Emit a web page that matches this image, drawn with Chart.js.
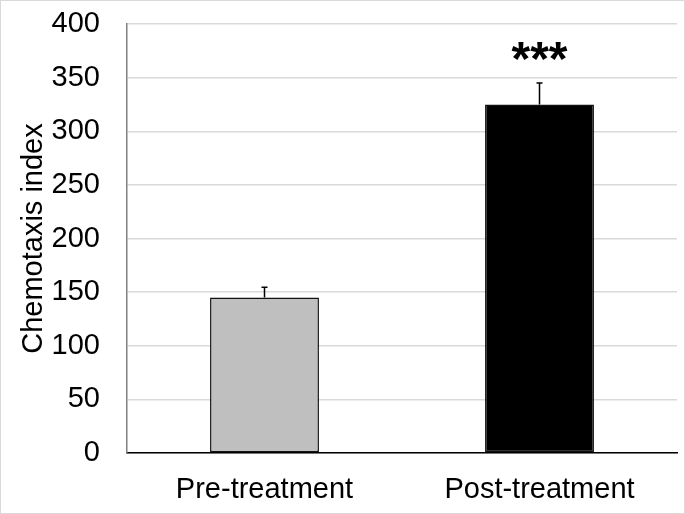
<!DOCTYPE html>
<html>
<head>
<meta charset="utf-8">
<script src="https://cdn.jsdelivr.net/npm/chart.js@4"></script>
<style>
  body { margin: 0; background: #fff; }
  #wrap { width: 683px; height: 512px; border: 1px solid #d9d9d9; }
</style>
</head>
<body>
<div id="wrap"><canvas id="grafico" width="683" height="512"></canvas></div>
<script>
// dados do gráfico
const categorias = ['Pre-treatment', 'Post-treatment'];
const valores = [145, 325];
const erros = [9.5, 20];
const cores = ['#bfbfbf', '#000000'];
const marcas = ['', '***'];
const ticksY = [0, 50, 100, 150, 200, 250, 300, 350, 400];

const fonte = '"Liberation Sans", Arial, sans-serif';

// barras de erro (só para cima) e asteriscos
const pluginErros = {
    id: 'erros',
    afterDatasetsDraw(chart) {
        const ctx = chart.ctx;
        const meta = chart.getDatasetMeta(0);
        const y = chart.scales.y;
        ctx.save();
        meta.data.forEach((barra, i) => {
            const topo = y.getPixelForValue(valores[i]);
            const fim = y.getPixelForValue(valores[i] + erros[i]);
            ctx.strokeStyle = '#000';
            ctx.lineWidth = 1.5;
            ctx.beginPath();
            ctx.moveTo(barra.x, topo);
            ctx.lineTo(barra.x, fim);
            ctx.moveTo(barra.x - 3, fim);
            ctx.lineTo(barra.x + 3, fim);
            ctx.stroke();
            if (marcas[i]) {
                ctx.fillStyle = '#000';
                ctx.font = 'bold 48px ' + fonte;
                ctx.textAlign = 'center';
                ctx.textBaseline = 'middle';
                ctx.fillText(marcas[i], barra.x, fim - 21);
            }
        });
        ctx.restore();
    }
};

new Chart(document.getElementById('grafico'), {
    type: 'bar',
    data: {
        labels: categorias,
        datasets: [{
            data: valores,
            backgroundColor: cores,
            borderColor: '#111',
            borderWidth: 1.5,
            borderSkipped: false,
            barPercentage: 0.8,
            categoryPercentage: 0.495
        }]
    },
    options: {
        responsive: false,
        animation: false,
        layout: { padding: { top: 23, right: 7, left: 12, bottom: 8 } },
        plugins: { legend: { display: false }, tooltip: { enabled: false } },
        scales: {
            x: {
                afterFit(axis) { axis.height = 52; },
                grid: { display: false, drawTicks: false },
                border: { color: '#000', width: 1.5 },
                ticks: {
                    color: '#000',
                    padding: 20,
                    font: { family: fonte, size: 29 }
                }
            },
            y: {
                min: 0,
                max: 400,
                afterBuildTicks(axis) { axis.ticks = ticksY.map(v => ({ value: v })); },
                afterFit(axis) {
                    axis.width = 114;
                    axis.paddingTop = 0;
                    axis.paddingBottom = 0;
                },
                grid: { color: '#d9d9d9', lineWidth: 1.5, drawTicks: false },
                border: { color: '#808080', width: 1.5 },
                ticks: {
                    color: '#000',
                    padding: 27,
                    font: { family: fonte, size: 29 }
                },
                title: {
                    display: true,
                    text: 'Chemotaxis index',
                    color: '#000',
                    padding: { top: 4, bottom: 0 },
                    font: { family: fonte, size: 29 }
                }
            }
        }
    },
    plugins: [pluginErros]
});
</script>
</body>
</html>
